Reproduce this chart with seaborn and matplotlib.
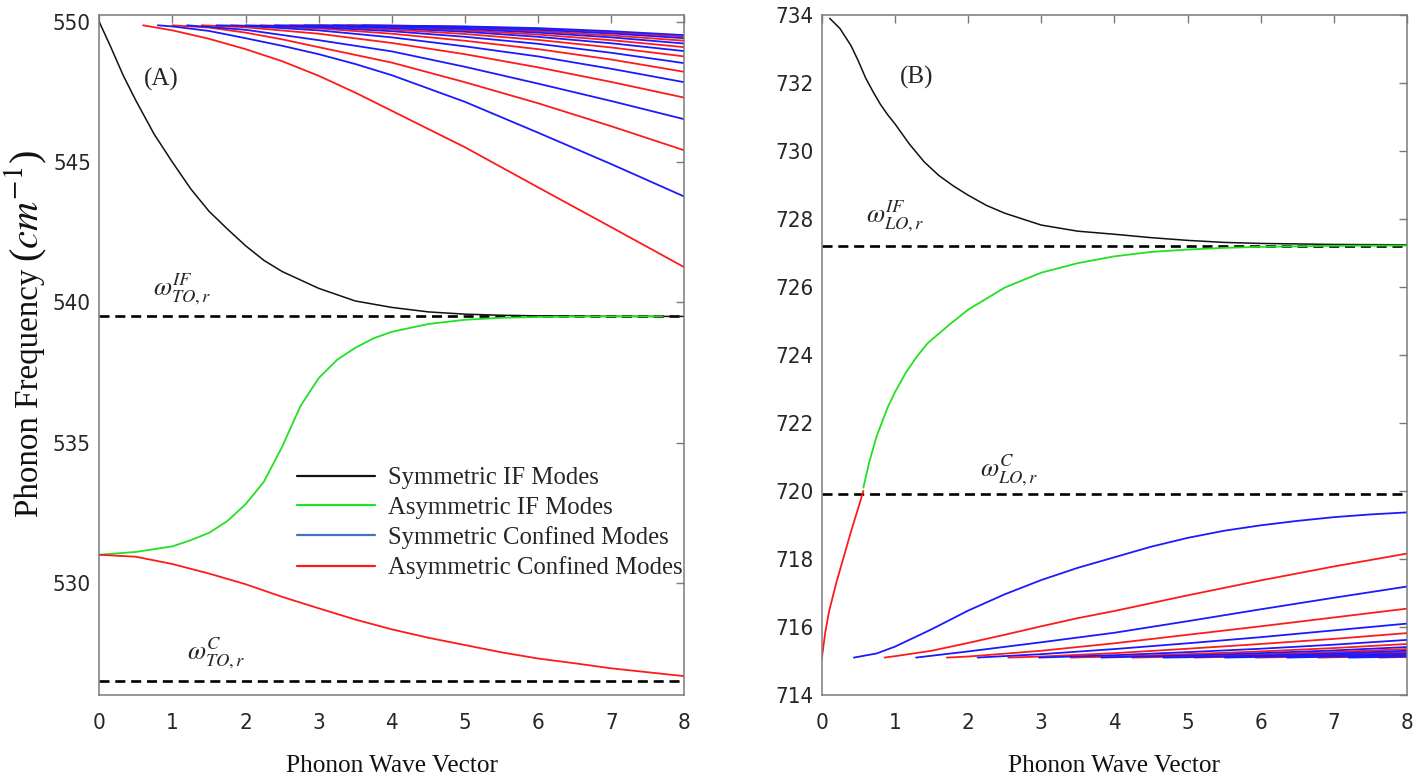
import matplotlib
matplotlib.use("Agg")
import matplotlib.pyplot as plt
from matplotlib import font_manager
from matplotlib.font_manager import FontProperties
from matplotlib.lines import Line2D
import seaborn as sns

# ---------------- Panel (A): TO-like branch ----------------
A_YLIM = (526.0, 550.25)
A_YTICKS = [530, 535, 540, 545, 550]
A_IF_LINE = 539.5          # omega^IF_TO,r
A_C_LINE = 526.5           # omega^C_TO,r

A_SYM_IF_Q = [0, 0.15, 0.33, 0.5, 0.75, 1, 1.25, 1.5, 1.75, 2, 2.25, 2.5, 3, 3.5, 4, 4.5, 5, 5.5, 6, 7, 8]
A_SYM_IF_W = [550.0, 549.15, 548.08, 547.2, 546.0, 545.0, 544.05, 543.25, 542.62, 542.02, 541.5, 541.1,
              540.5, 540.05, 539.82, 539.66, 539.58, 539.54, 539.52, 539.5, 539.5]

A_ASYM_IF_Q = [0, 0.5, 1, 1.25, 1.5, 1.75, 2, 2.25, 2.5, 2.75, 3, 3.25, 3.5, 3.75, 4, 4.5, 5, 5.5, 6, 7, 7.7]
A_ASYM_IF_W = [531.0, 531.1, 531.3, 531.52, 531.78, 532.2, 532.8, 533.6, 534.85, 536.3, 537.3, 537.95,
               538.38, 538.72, 538.95, 539.23, 539.38, 539.45, 539.48, 539.5, 539.5]

A_LOW_Q = [0, 0.5, 1, 1.5, 2, 2.5, 3, 3.5, 4, 4.5, 5, 5.5, 6, 6.5, 7, 7.5, 8]
A_LOW_W = [531.0, 530.93, 530.67, 530.33, 529.95, 529.5, 529.09, 528.69, 528.34, 528.04, 527.78,
           527.52, 527.3, 527.13, 526.95, 526.81, 526.67]

A_SYM_CONF_Q = [
    [0.8, 1, 1.5, 2, 2.5, 3, 3.5, 4, 5, 6, 7, 8],
    [1.2, 2, 3, 4, 5, 6, 7, 8],
    [1.6, 2, 3, 4, 5, 6, 7, 8],
    [2.0, 3, 4, 5, 6, 7, 8],
    [2.4, 3, 4, 5, 6, 7, 8],
    [2.8, 3, 4, 5, 6, 7, 8],
    [3.2, 4, 5, 6, 7, 8],
    [3.6, 4, 5, 6, 7, 8],
]
A_SYM_CONF_W = [
    [549.88, 549.84, 549.68, 549.42, 549.15, 548.85, 548.5, 548.1, 547.15, 546.05, 544.93, 543.77],
    [549.88, 549.72, 549.35, 548.95, 548.4, 547.8, 547.18, 546.53],
    [549.88, 549.86, 549.7, 549.45, 549.13, 548.77, 548.33, 547.85],
    [549.88, 549.81, 549.67, 549.47, 549.22, 548.9, 548.53],
    [549.88, 549.86, 549.78, 549.65, 549.47, 549.24, 548.96],
    [549.88, 549.88, 549.84, 549.75, 549.62, 549.45, 549.23],
    [549.88, 549.86, 549.81, 549.72, 549.59, 549.42],
    [549.88, 549.87, 549.84, 549.78, 549.67, 549.53],
]
A_ASYM_CONF_Q = [
    [0.6, 1, 1.5, 2, 2.5, 3, 3.5, 4, 5, 6, 7, 8],
    [1.0, 1.5, 2, 2.5, 3, 4, 5, 6, 7, 8],
    [1.4, 2, 3, 4, 5, 6, 7, 8],
    [1.8, 3, 4, 5, 6, 7, 8],
    [2.2, 3, 4, 5, 6, 7, 8],
    [2.6, 3, 4, 5, 6, 7, 8],
    [3.0, 4, 5, 6, 7, 8],
    [3.4, 4, 5, 6, 7, 8],
]
A_ASYM_CONF_W = [
    [549.88, 549.7, 549.4, 549.03, 548.6, 548.08, 547.48, 546.83, 545.53, 544.1, 542.68, 541.25],
    [549.88, 549.8, 549.62, 549.38, 549.1, 548.55, 547.85, 547.1, 546.28, 545.42],
    [549.88, 549.81, 549.58, 549.25, 548.85, 548.38, 547.86, 547.3],
    [549.88, 549.77, 549.58, 549.33, 549.03, 548.66, 548.22],
    [549.88, 549.84, 549.73, 549.57, 549.36, 549.09, 548.77],
    [549.88, 549.87, 549.81, 549.7, 549.55, 549.35, 549.1],
    [549.88, 549.85, 549.78, 549.67, 549.52, 549.33],
    [549.88, 549.87, 549.83, 549.75, 549.63, 549.48],
]

# ---------------- Panel (B): LO-like branch ----------------
B_YLIM = (714.0, 734.0)
B_YTICKS = [714, 716, 718, 720, 722, 724, 726, 728, 730, 732, 734]
B_IF_LINE = 727.2          # omega^IF_LO,r
B_C_LINE = 719.9           # omega^C_LO,r

B_SYM_IF_Q = [0.11, 0.25, 0.4, 0.5, 0.6, 0.7, 0.8, 0.9, 1.0, 1.2, 1.4, 1.6, 1.8, 2.0, 2.25, 2.5,
              3.0, 3.5, 4.0, 4.5, 5.0, 5.5, 6, 7, 8]
B_SYM_IF_W = [733.9, 733.6, 733.1, 732.65, 732.15, 731.75, 731.38, 731.07, 730.8, 730.2, 729.68,
              729.28, 728.97, 728.7, 728.4, 728.17, 727.82, 727.64, 727.55, 727.45, 727.37, 727.31,
              727.28, 727.25, 727.24]

B_ASYM_IF_Q = [0.57, 0.65, 0.75, 0.9, 1.0, 1.15, 1.3, 1.45, 1.75, 2.0, 2.5, 3.0, 3.5, 4.0, 4.5,
               5.0, 5.5, 6, 7, 8]
B_ASYM_IF_W = [720.1, 720.85, 721.6, 722.45, 722.9, 723.48, 723.95, 724.35, 724.9, 725.33, 725.98,
               726.42, 726.7, 726.9, 727.03, 727.1, 727.15, 727.18, 727.21, 727.22]

B_LOW_Q = [0, 0.05, 0.1, 0.2, 0.3, 0.4, 0.5, 0.57]
B_LOW_W = [715.05, 715.85, 716.45, 717.3, 718.05, 718.8, 719.5, 720.0]

B_SYM_CONF_Q = [
    [0.44, 0.75, 1, 1.5, 2, 2.5, 3, 3.5, 4, 4.5, 5, 5.5, 6, 6.5, 7, 7.5, 8],
    [1.29, 2, 3, 4, 5, 6, 7, 8],
    [2.13, 3, 4, 5, 6, 7, 8],
    [2.97, 4, 5, 6, 7, 8],
    [3.82, 4, 5, 6, 7, 8],
    [4.67, 5, 6, 7, 8],
    [5.51, 6, 7, 8],
    [6.36, 7, 8],
    [7.2, 8],
]
B_SYM_CONF_W = [
    [715.1, 715.22, 715.42, 715.93, 716.48, 716.96, 717.38, 717.74, 718.05, 718.36, 718.62,
     718.83, 718.99, 719.12, 719.23, 719.31, 719.37],
    [715.1, 715.28, 715.55, 715.83, 716.17, 716.52, 716.86, 717.19],
    [715.1, 715.2, 715.35, 715.52, 715.7, 715.9, 716.1],
    [715.1, 715.17, 715.26, 715.36, 715.48, 715.62],
    [715.1, 715.11, 715.16, 715.23, 715.31, 715.41],
    [715.1, 715.11, 715.16, 715.22, 715.3],
    [715.1, 715.12, 715.17, 715.22],
    [715.1, 715.13, 715.17],
    [715.1, 715.13],
]
B_ASYM_CONF_Q = [
    [0.86, 1, 1.5, 2, 2.5, 3, 3.5, 4, 5, 6, 7, 8],
    [1.71, 2, 3, 4, 5, 6, 7, 8],
    [2.55, 3, 4, 5, 6, 7, 8],
    [3.4, 4, 5, 6, 7, 8],
    [4.24, 5, 6, 7, 8],
    [5.09, 6, 7, 8],
    [5.93, 7, 8],
    [6.78, 8],
    [7.62, 8],
]
B_ASYM_CONF_W = [
    [715.1, 715.14, 715.3, 715.53, 715.77, 716.02, 716.26, 716.47, 716.93, 717.37, 717.78, 718.16],
    [715.1, 715.13, 715.3, 715.52, 715.77, 716.02, 716.28, 716.54],
    [715.1, 715.13, 715.23, 715.36, 715.5, 715.65, 715.82],
    [715.1, 715.13, 715.2, 715.28, 715.38, 715.5],
    [715.1, 715.13, 715.19, 715.26, 715.35],
    [715.1, 715.14, 715.19, 715.26],
    [715.1, 715.14, 715.19],
    [715.1, 715.15],
    [715.1, 715.12],
]

X_TICKS = list(range(0, 9))
LEGEND_LABELS = ["Symmetric IF Modes", "Asymmetric IF Modes",
                 "Symmetric Confined Modes", "Asymmetric Confined Modes"]
Y_LABEL_TEXT = "Phonon Frequency"
Y_LABEL_UNIT = r"($cm^{-1}$)"

# ---------------- styling ----------------
C_BLACK = "#111111"
C_GREEN = "#22e022"
C_BLUE = "#1a1aff"
C_RED = "#ff1a1a"
C_LEG_BLUE = "#4472c4"
C_SPINE = "#7a7a7a"

sns.set_theme(style="white")
SERIF = ["Liberation Serif", "DejaVu Serif"]
plt.rcParams["font.family"] = SERIF
plt.rcParams["mathtext.fontset"] = "stix"


def tick_font():
    """Prefer a narrow sans face for the tick numbers."""
    entries = font_manager.fontManager.ttflist
    if any(f.name == "Liberation Sans Narrow" for f in entries):
        return FontProperties(family="Liberation Sans Narrow", size=18)
    if any(f.name == "DejaVu Sans" and f.stretch == "condensed" for f in entries):
        return FontProperties(family="DejaVu Sans", stretch="condensed", size=16)
    return FontProperties(family="Liberation Sans", size=16.5)


TICK_FP = tick_font()

W_PX, H_PX = 1426, 774
fig = plt.figure(figsize=(W_PX / 100, H_PX / 100), dpi=100)
ax_a = fig.add_axes([0.0696, 0.1021, 0.4104, 0.8786])
ax_b = fig.add_axes([0.5762, 0.1021, 0.4106, 0.8786])


def draw_curve(ax, q, w, color, lw=1.3):
    sns.lineplot(x=q, y=w, ax=ax, color=color, linewidth=lw, sort=False,
                 estimator=None, legend=False)


def hline(ax, y):
    ax.plot([0, 8], [y, y], color="black", linewidth=1.9, dashes=(3.8, 2.2), zorder=1)


def style_axes(ax, ylim, yticks):
    ax.set_xlim(0, 8)
    ax.set_ylim(*ylim)
    ax.set_xticks(X_TICKS)
    ax.set_yticks(yticks)
    for s in ax.spines.values():
        s.set_color(C_SPINE)
        s.set_linewidth(1.1)
    ax.tick_params(direction="in", length=6, width=1.0, color=C_SPINE,
                   labelcolor="#262626", top=True, right=True)
    ax.tick_params(axis="x", pad=13)
    ax.tick_params(axis="y", pad=6)
    for lab in ax.get_xticklabels() + ax.get_yticklabels():
        lab.set_fontproperties(TICK_FP)
    ax.set_xlabel("Phonon Wave Vector", fontsize=18.2, color="#111111")
    ax.xaxis.set_label_coords(0.5, -0.088)
    ax.set_ylabel("")


# ----- panel A -----
hline(ax_a, A_IF_LINE)
hline(ax_a, A_C_LINE)
for q, w in zip(A_ASYM_CONF_Q, A_ASYM_CONF_W):
    draw_curve(ax_a, q, w, C_RED)
for q, w in zip(A_SYM_CONF_Q, A_SYM_CONF_W):
    draw_curve(ax_a, q, w, C_BLUE)
draw_curve(ax_a, A_SYM_IF_Q, A_SYM_IF_W, C_BLACK, lw=1.1)
draw_curve(ax_a, A_ASYM_IF_Q, A_ASYM_IF_W, C_GREEN)
draw_curve(ax_a, A_LOW_Q, A_LOW_W, C_RED)
style_axes(ax_a, A_YLIM, A_YTICKS)
ax_a.text(0.74, 539.85, r"$\omega^{IF}_{TO,r}$", fontsize=19, ha="left", va="bottom")
ax_a.text(1.2, 526.85, r"$\omega^{C}_{TO,r}$", fontsize=19, ha="left", va="bottom")
ax_a.text(0.85, 547.95, "(A)", fontsize=18, ha="center", va="center")

handles = [Line2D([], [], color=c, linewidth=1.6)
           for c in (C_BLACK, C_GREEN, C_LEG_BLUE, C_RED)]
ax_a.legend(handles, LEGEND_LABELS, loc="upper left", bbox_to_anchor=(0.338, 0.335),
            frameon=False, fontsize=17.8, handlelength=3.15, handletextpad=0.53,
            labelspacing=0.29, borderpad=0, borderaxespad=0)

# y-axis title: plain words followed by a larger math unit, rotated and stacked
base_x = 38 / W_PX
start_y = (H_PX - 517) / H_PX
t_words = fig.text(base_x, start_y, Y_LABEL_TEXT, rotation=90, rotation_mode="anchor",
                   ha="left", va="baseline", fontsize=23.8, color="#111111")
renderer = fig.canvas.get_renderer()
top_px = t_words.get_window_extent(renderer).y1
fig.text(base_x, (top_px + 7) / H_PX, Y_LABEL_UNIT, rotation=90, rotation_mode="anchor",
         ha="left", va="baseline", fontsize=29, color="#111111")

# ----- panel B -----
hline(ax_b, B_IF_LINE)
hline(ax_b, B_C_LINE)
for q, w in zip(B_ASYM_CONF_Q, B_ASYM_CONF_W):
    draw_curve(ax_b, q, w, C_RED)
for q, w in zip(B_SYM_CONF_Q, B_SYM_CONF_W):
    draw_curve(ax_b, q, w, C_BLUE)
draw_curve(ax_b, B_SYM_IF_Q, B_SYM_IF_W, C_BLACK, lw=1.1)
draw_curve(ax_b, B_ASYM_IF_Q, B_ASYM_IF_W, C_GREEN)
draw_curve(ax_b, B_LOW_Q, B_LOW_W, C_RED)
style_axes(ax_b, B_YLIM, B_YTICKS)
ax_b.text(0.6, 727.55, r"$\omega^{IF}_{LO,r}$", fontsize=19, ha="left", va="bottom")
ax_b.text(2.17, 720.1, r"$\omega^{C}_{LO,r}$", fontsize=19, ha="left", va="bottom")
ax_b.text(1.3, 732.15, "(B)", fontsize=18, ha="center", va="center")

fig.savefig("out.png", dpi=100, facecolor="white")
